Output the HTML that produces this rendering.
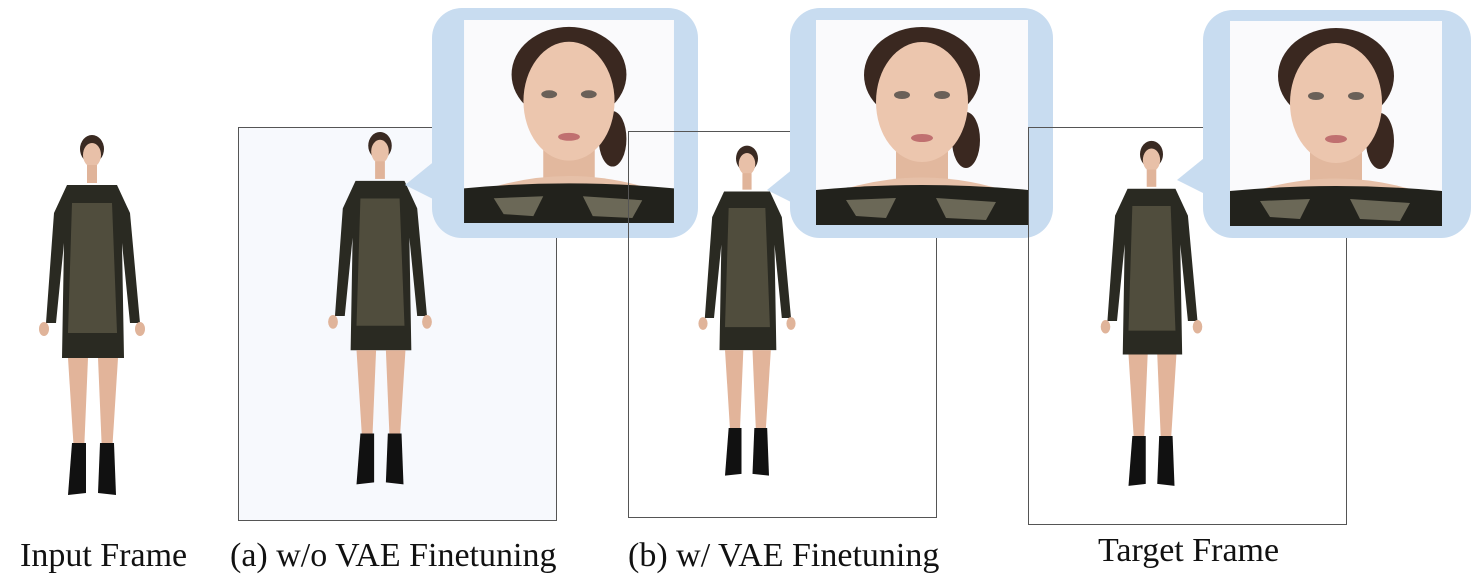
<!DOCTYPE html>
<html><head><meta charset="utf-8"><style>
html,body{margin:0;padding:0;background:#fff;}
#root{position:relative;width:1476px;height:588px;overflow:hidden;background:#fff;font-family:"Liberation Serif",serif;}
.box{position:absolute;border:1px solid #555;box-sizing:border-box;}
.bubble{position:absolute;background:#c8dcf0;border-radius:30px;}
.lbl{position:absolute;font-size:34px;color:#111;white-space:nowrap;}
svg{position:absolute;}
</style></head><body>
<div id="root">
<svg width="0" height="0" style="position:absolute">
<defs>
<symbol id="person" viewBox="0 0 120 380">
 <ellipse cx="60" cy="16" rx="12" ry="14" fill="#3a2a22"/>
 <ellipse cx="60" cy="22" rx="9" ry="12" fill="#e8c0a8"/>
 <rect x="55" y="32" width="10" height="18" fill="#e0b49a"/>
 <path d="M35 52 L85 52 L98 80 L108 190 L98 190 L90 110 L92 225 L30 225 L32 110 L24 190 L14 190 L22 80 Z" fill="#2a2a22"/>
 <path d="M40 70 L80 70 L85 200 L36 200 Z" fill="#6a6650" opacity="0.6"/>
 <ellipse cx="12" cy="196" rx="5" ry="7" fill="#e0b49a"/>
 <ellipse cx="108" cy="196" rx="5" ry="7" fill="#e0b49a"/>
 <path d="M36 225 L56 225 L52 320 L42 320 Z" fill="#e2b49a"/>
 <path d="M66 225 L86 225 L80 320 L70 320 Z" fill="#e2b49a"/>
 <path d="M40 310 L54 310 L54 360 L36 362 Z" fill="#111"/>
 <path d="M68 310 L82 310 L84 362 L66 360 Z" fill="#111"/>
</symbol>
<symbol id="face" viewBox="0 0 212 205">
 <rect width="212" height="205" fill="#fafafc"/>
 <ellipse cx="106" cy="55" rx="58" ry="48" fill="#3a2820"/>
 <ellipse cx="150" cy="120" rx="14" ry="28" fill="#3a2820"/>
 <rect x="80" y="110" width="52" height="60" fill="#e2b89e"/>
 <path d="M10 175 Q106 140 202 175 L212 205 L0 205 Z" fill="#e6c0a8"/>
 <ellipse cx="106" cy="82" rx="46" ry="60" fill="#ecc6ae"/>
 <ellipse cx="86" cy="75" rx="8" ry="4" fill="#6a6058"/>
 <ellipse cx="126" cy="75" rx="8" ry="4" fill="#6a6058"/>
 <ellipse cx="106" cy="118" rx="11" ry="4" fill="#c07070"/>
 <path d="M0 170 Q106 160 212 170 L212 205 L0 205 Z" fill="#22221c"/>
 <path d="M30 180 L80 178 L70 198 L40 196 Z" fill="#8a8670" opacity="0.7"/>
 <path d="M120 178 L180 182 L170 200 L130 198 Z" fill="#8a8670" opacity="0.7"/>
</symbol>
</defs></svg>

<svg style="left:32px;top:133px" width="120" height="380"><use href="#person"/></svg>

<div class="box" style="left:238px;top:127px;width:319px;height:394px;background:#f7f9fd"></div>
<svg style="left:320px;top:130px" width="120" height="372"><use href="#person"/></svg>
<svg style="left:400px;top:150px" width="50" height="60"><path d="M42 5 L5 35 L45 55 Z" fill="#c8dcf0"/></svg>
<div class="bubble" style="left:432px;top:8px;width:266px;height:230px"></div>
<svg style="left:463px;top:20px" width="212" height="203"><use href="#face"/></svg>

<div class="box" style="left:628px;top:131px;width:309px;height:387px"></div>
<svg style="left:692px;top:138px" width="110" height="360"><use href="#person"/></svg>
<svg style="left:762px;top:155px" width="50" height="60"><path d="M42 5 L5 35 L45 55 Z" fill="#c8dcf0"/></svg>
<div class="bubble" style="left:790px;top:8px;width:263px;height:230px"></div>
<svg style="left:816px;top:20px" width="212" height="205"><use href="#face"/></svg>

<div class="box" style="left:1028px;top:127px;width:319px;height:398px"></div>
<svg style="left:1094px;top:136px" width="115" height="370"><use href="#person"/></svg>
<svg style="left:1172px;top:145px" width="50" height="60"><path d="M42 5 L5 35 L45 55 Z" fill="#c8dcf0"/></svg>
<div class="bubble" style="left:1203px;top:10px;width:268px;height:228px"></div>
<svg style="left:1230px;top:20px" width="212" height="207"><use href="#face"/></svg>

<div class="lbl" style="left:20px;top:537px">Input Frame</div>
<div class="lbl" style="left:230px;top:537px">(a) w/o VAE Finetuning</div>
<div class="lbl" style="left:628px;top:537px">(b) w/ VAE Finetuning</div>
<div class="lbl" style="left:1098px;top:532px">Target Frame</div>
</div>
</body></html>
